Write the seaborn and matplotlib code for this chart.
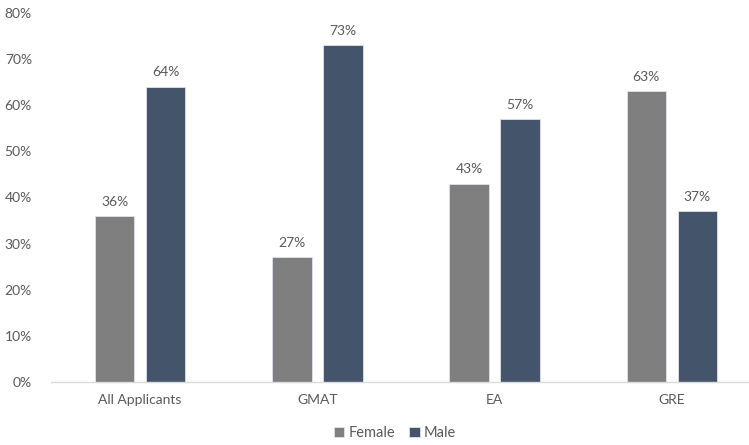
import pandas as pd
import matplotlib
matplotlib.use('Agg')
import matplotlib.pyplot as plt
import seaborn as sns
from matplotlib.ticker import PercentFormatter

categories = ['All Applicants', 'GMAT', 'EA', 'GRE']
female = [0.36, 0.27, 0.43, 0.63]
male = [0.64, 0.73, 0.57, 0.37]
yticks = [0, 0.1, 0.2, 0.3, 0.4, 0.5, 0.6, 0.7, 0.8]

df = pd.DataFrame({
    'category': categories * 2,
    'share': female + male,
    'gender': ['Female'] * len(categories) + ['Male'] * len(categories),
})

sns.set_theme(style='white')
plt.rcParams['font.family'] = ['Lato', 'DejaVu Sans']
text_col = '#595959'
fs = 10

fig = plt.figure(figsize=(7.49, 4.45), dpi=100)
ax = fig.add_axes([51.4 / 749, (445 - 382) / 445, 1 - 51.4 / 749, (382 - 13) / 445])

sns.barplot(data=df, x='category', y='share', hue='gender', order=categories,
            hue_order=['Female', 'Male'], palette=['#7f7f7f', '#44546a'],
            saturation=1, width=0.576, gap=0.226, edgecolor='#dfe3ea',
            linewidth=0.6, ax=ax, legend=True)

for cont in ax.containers:
    ax.bar_label(cont, labels=[f'{v * 100:.0f}%' for v in cont.datavalues],
                 padding=6, fontsize=fs, color=text_col)

ax.set_xlim(-0.5, 3.435)
ax.set_ylim(0, 0.8)
ax.set_yticks(yticks)
ax.yaxis.set_major_formatter(PercentFormatter(1.0, decimals=0))
ax.tick_params(axis='y', length=0, pad=14, labelsize=fs, labelcolor=text_col)
ax.tick_params(axis='x', length=0, pad=9, labelsize=fs, labelcolor=text_col)
ax.set_xlabel('')
ax.set_ylabel('')
for s in ['top', 'right', 'left']:
    ax.spines[s].set_visible(False)
ax.spines['bottom'].set_color('#d9d9d9')
ax.spines['bottom'].set_linewidth(1)

handles, labels = ax.get_legend_handles_labels()
ax.legend(handles, labels, loc='center', bbox_to_anchor=(395 / 749, (445 - 433) / 445),
          bbox_transform=fig.transFigure, ncol=2, frameon=False,
          fontsize=fs + 0.5, labelcolor=text_col, handlelength=0.7, handleheight=0.7,
          handletextpad=0.3, columnspacing=1.0)

fig.savefig('out.png', dpi=100)
